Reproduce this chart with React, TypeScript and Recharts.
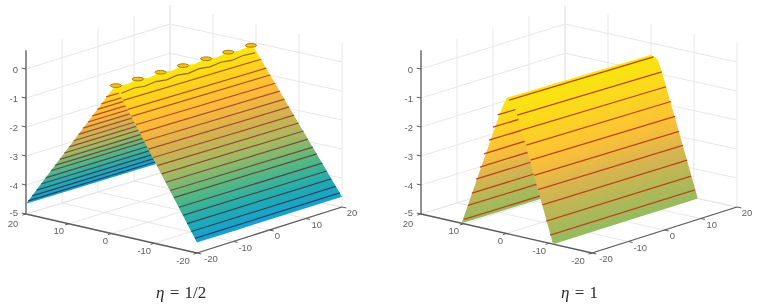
import React from 'react';
import { ComposedChart, Area, Line, Scatter, XAxis, YAxis } from 'recharts';

const W = 763;
const H = 308;

const xTicks = [20, 10, 0, -10, -20];
const yTicks = [-20, -10, 0, 10, 20];
const zTicks = [0, -1, -2, -3, -4, -5];
const zTop = 0.65;

// left plot, eta = 1/2
const halfLevels = [-0.46, -0.73, -0.94, -1.19, -1.43, -1.67, -1.91, -2.16, -2.4, -2.64, -2.89, -3.13, -3.34, -3.62, -3.86, -4.1, -4.33, -4.53];
const halfNearX = [-2.0, -3.1, -4.0, -5.1, -6.1, -7.2, -8.2, -9.3, -10.3, -11.4, -12.4, -13.5, -14.4, -15.6, -16.6, -17.6, -18.6, -19.5];
const halfFarX = [2.0, 3.1, 4.0, 5.1, 6.1, 7.2, 8.2, 9.3, 10.3, 11.4, 12.4, 13.5, 14.4, 15.6, 16.6, 17.6, 18.6, 19.5];
const halfLineColors = ['#b85a12', '#b8541a', '#b8501e', '#b54e20', '#b04e24', '#a85028', '#a0502c', '#985030', '#8c5034', '#805038', '#74503c', '#685040', '#5c4c44', '#504a4a', '#464850', '#3c4656', '#34445c', '#2e4260'];
const ridgeY = [-19, -15.8, -12.7, -9.5, -6.4, -3.3, -0.2, 3, 6.2, 9.2, 12.3, 15.4, 19];
const ridgeZ = [-0.03, -0.1, -0.03, -0.1, -0.03, -0.1, -0.03, -0.1, -0.03, -0.1, -0.03, -0.1, -0.03];
const capY = [-18.8, -12.7, -6.4, -0.2, 6.2, 12.3, 18.6];
const rippleY = [-18.5, -15, -12, -9, -6, -3, 0, 3, 6, 9, 12, 15, 18.5];
const rippleZ = [-0.27, -0.22, -0.27, -0.22, -0.27, -0.22, -0.27, -0.22, -0.27, -0.22, -0.27, -0.22, -0.25];
const rippleX = -1.05;
const halfEdgeZ = -4.65;

// right plot, eta = 1
const oneNearLevels = [-0.46, -0.91, -1.39, -1.86, -2.34, -2.83, -3.28, -3.76, -4.28, -4.72];
const oneNearX = [-0.6, -2.5, -3.5, -4.65, -5.6, -6.5, -7.4, -8.4, -9.3, -10.2];
const oneFarLevels = [-1.04, -1.49, -1.96, -2.46, -2.94, -3.38, -3.89, -4.34, -4.85];
const oneFarX = [2.06, 3.16, 4.1, 5.27, 6.2, 7.14, 8.08, 9.0, 9.95];
const oneNearEdgeX = [0, -1.5, -2.5, -10.9];
const oneNearEdgeZ = [-0.41, -0.5, -0.9, -5];
const oneFarEdgeX = [0, 1.5, 10.5];
const oneFarEdgeZ = [-0.41, -0.95, -5];

const xLabelNudge = [-13, -10, -6, -10, -14];
const yLabelNudge = [14, 12, 8, 11, 10];
const halfStops: [number, string][] = [[0, '#f8e80e'], [0.13, '#fcd022'], [0.27, '#fdb93c'], [0.42, '#d8b050'], [0.57, '#a8b860'], [0.72, '#58b880'], [0.87, '#20acb0'], [1, '#14a0d4']];
const oneStops: [number, string][] = [[0, '#f8e60e'], [0.2, '#fcd81e'], [0.45, '#fcc038'], [0.65, '#d8b450'], [0.85, '#b0b858'], [1, '#94bb60']];

// picture of the box corners, [floor, z=0]
const boxFront = [[197, 253], [197, 103]];
const boxLeft = [[26, 214], [26, 69]];
const boxRight = [[342, 207], [342, 62]];
const boxBack = [[170, 170], [170, 24]];

type Pt = { px: number; py: number };

const project = (x: number, y: number, z: number, dx: number): Pt => {
  const u = (x + 20) / 40;
  const v = (y + 20) / 40;
  const w = (z + 5) / 5;
  const at = (k: number, i: number) => {
    const a = boxFront[k][i] * (1 - v) + boxRight[k][i] * v;
    const b = boxLeft[k][i] * (1 - v) + boxBack[k][i] * v;
    return a * (1 - u) + b * u;
  };
  return {
    px: at(0, 0) * (1 - w) + at(1, 0) * w + dx,
    py: at(0, 1) * (1 - w) + at(1, 1) * w,
  };
};

// an outline that is single valued in x, as the [top, bottom] rows an Area wants
const toBand = (poly: Pt[]) => {
  const xs = Array.from(new Set(poly.map((p) => p.px))).sort((a, b) => a - b);
  return xs.map((x) => {
    const hits: number[] = [];
    poly.forEach((a, i) => {
      const b = poly[(i + 1) % poly.length];
      if (a.px === b.px) {
        if (a.px === x) hits.push(a.py, b.py);
      } else if (x >= Math.min(a.px, b.px) && x <= Math.max(a.px, b.px)) {
        hits.push(a.py + ((x - a.px) / (b.px - a.px)) * (b.py - a.py));
      }
    });
    return { px: x, band: [Math.min(...hits), Math.max(...hits)] };
  });
};

const faceGradient = (id: string, a: Pt, b: Pt, c: Pt, stops: [number, string][]) => {
  const tx = b.px - a.px;
  const ty = b.py - a.py;
  const len = Math.hypot(tx, ty);
  const nx = -ty / len;
  const ny = tx / len;
  const d = (c.px - a.px) * nx + (c.py - a.py) * ny;
  return (
    <linearGradient id={id} gradientUnits="userSpaceOnUse" x1={a.px} y1={a.py} x2={a.px + nx * d} y2={a.py + ny * d}>
      {stops.map(([o, col]) => (
        <stop key={o} offset={o} stopColor={col} />
      ))}
    </linearGradient>
  );
};

const TickText = (props: any) => (
  <text x={props.cx} y={props.cy} dy={3.5} textAnchor={props.payload.anchor} fontFamily="Liberation Sans, Arial" fontSize={9.5} fill="#606060">
    {props.payload.label}
  </text>
);

const Cap = (props: any) => (
  <ellipse cx={props.cx} cy={props.cy} rx={5.6} ry={1.8} fill="#f3c612" stroke="#b0741a" strokeWidth={1} />
);

const seg = (key: string, pts: Pt[], stroke: string, width = 1) => (
  <Line key={key} data={pts} dataKey="py" stroke={stroke} strokeWidth={width} dot={false} activeDot={false} isAnimationActive={false} />
);

const axes = (
  <>
    <XAxis type="number" dataKey="px" domain={[0, W]} hide />
    <YAxis type="number" dataKey="py" domain={[0, H]} reversed hide />
  </>
);

const chartStyle: React.CSSProperties = { position: 'absolute', left: 0, top: 0 };
const margin = { top: 0, right: 0, bottom: 0, left: 0 };

const Grid = ({ dx }: { dx: number }) => {
  const grid = '#e7e7e7';
  const axis = '#5c5c5c';
  const labels: any[] = [];
  zTicks.forEach((z) => {
    const p = project(20, -20, z, dx);
    labels.push({ px: p.px - 8, py: p.py - (z === -5 ? 1.5 : 0), label: String(z), anchor: 'end' });
  });
  xTicks.forEach((x, i) => {
    const p = project(x, -20, -5, dx);
    labels.push({ px: p.px + xLabelNudge[i], py: p.py + (x === 20 ? 9.5 : 7), label: String(x), anchor: 'middle' });
  });
  yTicks.forEach((y, i) => {
    const p = project(-20, y, -5, dx);
    labels.push({ px: p.px + yLabelNudge[i], py: p.py + 5.5, label: String(y), anchor: 'middle' });
  });
  return (
    <ComposedChart width={W} height={H} margin={margin} style={chartStyle}>
      {axes}
      {zTicks.map((z) => seg(`wl${z}`, [project(20, -20, z, dx), project(20, 20, z, dx)], grid))}
      {zTicks.map((z) => seg(`wr${z}`, [project(20, 20, z, dx), project(-20, 20, z, dx)], grid))}
      {yTicks.map((y) => seg(`vl${y}`, [project(20, y, -5, dx), project(20, y, zTop, dx)], grid))}
      {xTicks.map((x) => seg(`vr${x}`, [project(x, 20, -5, dx), project(x, 20, zTop, dx)], grid))}
      {xTicks.map((x) => seg(`fx${x}`, [project(x, -20, -5, dx), project(x, 20, -5, dx)], grid))}
      {yTicks.map((y) => seg(`fy${y}`, [project(-20, y, -5, dx), project(20, y, -5, dx)], grid))}
      {seg('az', [project(20, -20, -5, dx), project(20, -20, zTop, dx)], axis, 1.3)}
      {seg('ax', [project(20, -20, -5, dx), project(-20, -20, -5, dx)], axis, 1.3)}
      {seg('ay', [project(-20, -20, -5, dx), project(-20, 20, -5, dx)], axis, 1.3)}
      {zTicks.map((z) => seg(`tz${z}`, [project(20, -20, z, dx), project(21, -20, z, dx)], axis))}
      {xTicks.map((x) => seg(`tx${x}`, [project(x, -20, -5, dx), project(x, -21, -5, dx)], axis))}
      {yTicks.map((y) => seg(`ty${y}`, [project(-20, y, -5, dx), project(-21, y, -5, dx)], axis))}
      <Scatter data={labels} dataKey="py" shape={TickText} isAnimationActive={false} />
    </ComposedChart>
  );
};

const Face = ({ id, poly, gradient, lines }: { id: string; poly: Pt[]; gradient: React.ReactNode; lines: React.ReactNode }) => (
  <ComposedChart width={W} height={H} margin={margin} style={chartStyle}>
    <defs>{gradient}</defs>
    {axes}
    <Area data={toBand(poly)} dataKey="band" type="linear" fill={`url(#${id})`} fillOpacity={1} stroke="none" dot={false} activeDot={false} isAnimationActive={false} />
    {lines}
  </ComposedChart>
);

const HalfPlot = () => {
  const dx = 0;
  const ridge = ridgeY.map((y, i) => project(0, y, ridgeZ[i], dx));
  const last = ridge[ridge.length - 1];
  const nearPoly = [...ridge, project(-20, 20, halfEdgeZ, dx), project(-20, -20, halfEdgeZ, dx)];
  const farPoly = [...ridge, project(20, 20, halfEdgeZ, dx), project(20, -20, halfEdgeZ, dx)];
  const span = (x: number) => 19 + Math.abs(x) / 20;
  const ripple = rippleY.map((y, i) => project(rippleX, y, rippleZ[i], dx));
  return (
    <>
      <Grid dx={dx} />
      <Face
        id="halfFar"
        poly={farPoly}
        gradient={faceGradient('halfFar', ridge[0], last, project(20, -20, halfEdgeZ, dx), halfStops)}
        lines={halfLevels.map((z, i) => seg(`far${i}`, [project(halfFarX[i], -span(halfFarX[i]), z, dx), project(halfFarX[i], span(halfFarX[i]), z, dx)], halfLineColors[i], 1.2))}
      />
      <Face
        id="halfNear"
        poly={nearPoly}
        gradient={faceGradient('halfNear', ridge[0], last, project(-20, -20, halfEdgeZ, dx), halfStops)}
        lines={[
          seg('nearTop', ripple, '#a9611a', 1.2),
          ...halfLevels.map((z, i) => seg(`near${i}`, [project(halfNearX[i], -span(halfNearX[i]), z, dx), project(halfNearX[i], span(halfNearX[i]), z, dx)], halfLineColors[i], 1.2)),
          <Scatter key="caps" data={capY.map((y) => project(0, y, -0.03, dx))} dataKey="py" shape={Cap} isAnimationActive={false} />,
        ]}
      />
    </>
  );
};

const OnePlot = () => {
  const dx = 395;
  const nearFront = oneNearEdgeX.map((x, i) => project(x, -20, oneNearEdgeZ[i], dx));
  const nearBack = oneNearEdgeX.map((x, i) => project(x, 20, oneNearEdgeZ[i], dx));
  const farFront = oneFarEdgeX.map((x, i) => project(x, -20, oneFarEdgeZ[i], dx));
  const farBack = oneFarEdgeX.map((x, i) => project(x, 20, oneFarEdgeZ[i], dx));
  const nearPoly = [nearFront[0], ...nearBack, ...nearFront.slice(1).reverse()];
  const farPoly = [farFront[0], farBack[0], farBack[2], ...farFront.slice(1).reverse()];
  const red = '#bf4519';
  return (
    <>
      <Grid dx={dx} />
      <Face
        id="oneFar"
        poly={farPoly}
        gradient={faceGradient('oneFar', farFront[0], farBack[0], farFront[2], oneStops)}
        lines={oneFarLevels.map((z, i) => seg(`far${i}`, [project(oneFarX[i], -20, z, dx), project(oneFarX[i], 20, z, dx)], red, 1.3))}
      />
      <Face
        id="oneNear"
        poly={nearPoly}
        gradient={faceGradient('oneNear', nearFront[0], nearBack[0], nearFront[3], oneStops)}
        lines={oneNearLevels.map((z, i) => seg(`near${i}`, [project(oneNearX[i], -20, z, dx), project(oneNearX[i], 20, z, dx)], red, 1.3))}
      />
    </>
  );
};

const Caption = ({ left, text }: { left: number; text: string }) => (
  <div style={{ position: 'absolute', left, top: 283, fontFamily: 'Liberation Serif, serif', fontSize: 17, color: '#2a2a2a', whiteSpace: 'pre', wordSpacing: 1 }}>
    <i>η</i> = {text}
  </div>
);

export default function App() {
  return (
    <div style={{ position: 'absolute', left: 0, top: 0, width: W, height: H, background: '#fff', overflow: 'hidden', filter: 'blur(0.4px)' }}>
      <HalfPlot />
      <OnePlot />
      <Caption left={156} text="1/2" />
      <Caption left={561} text="1" />
    </div>
  );
}
